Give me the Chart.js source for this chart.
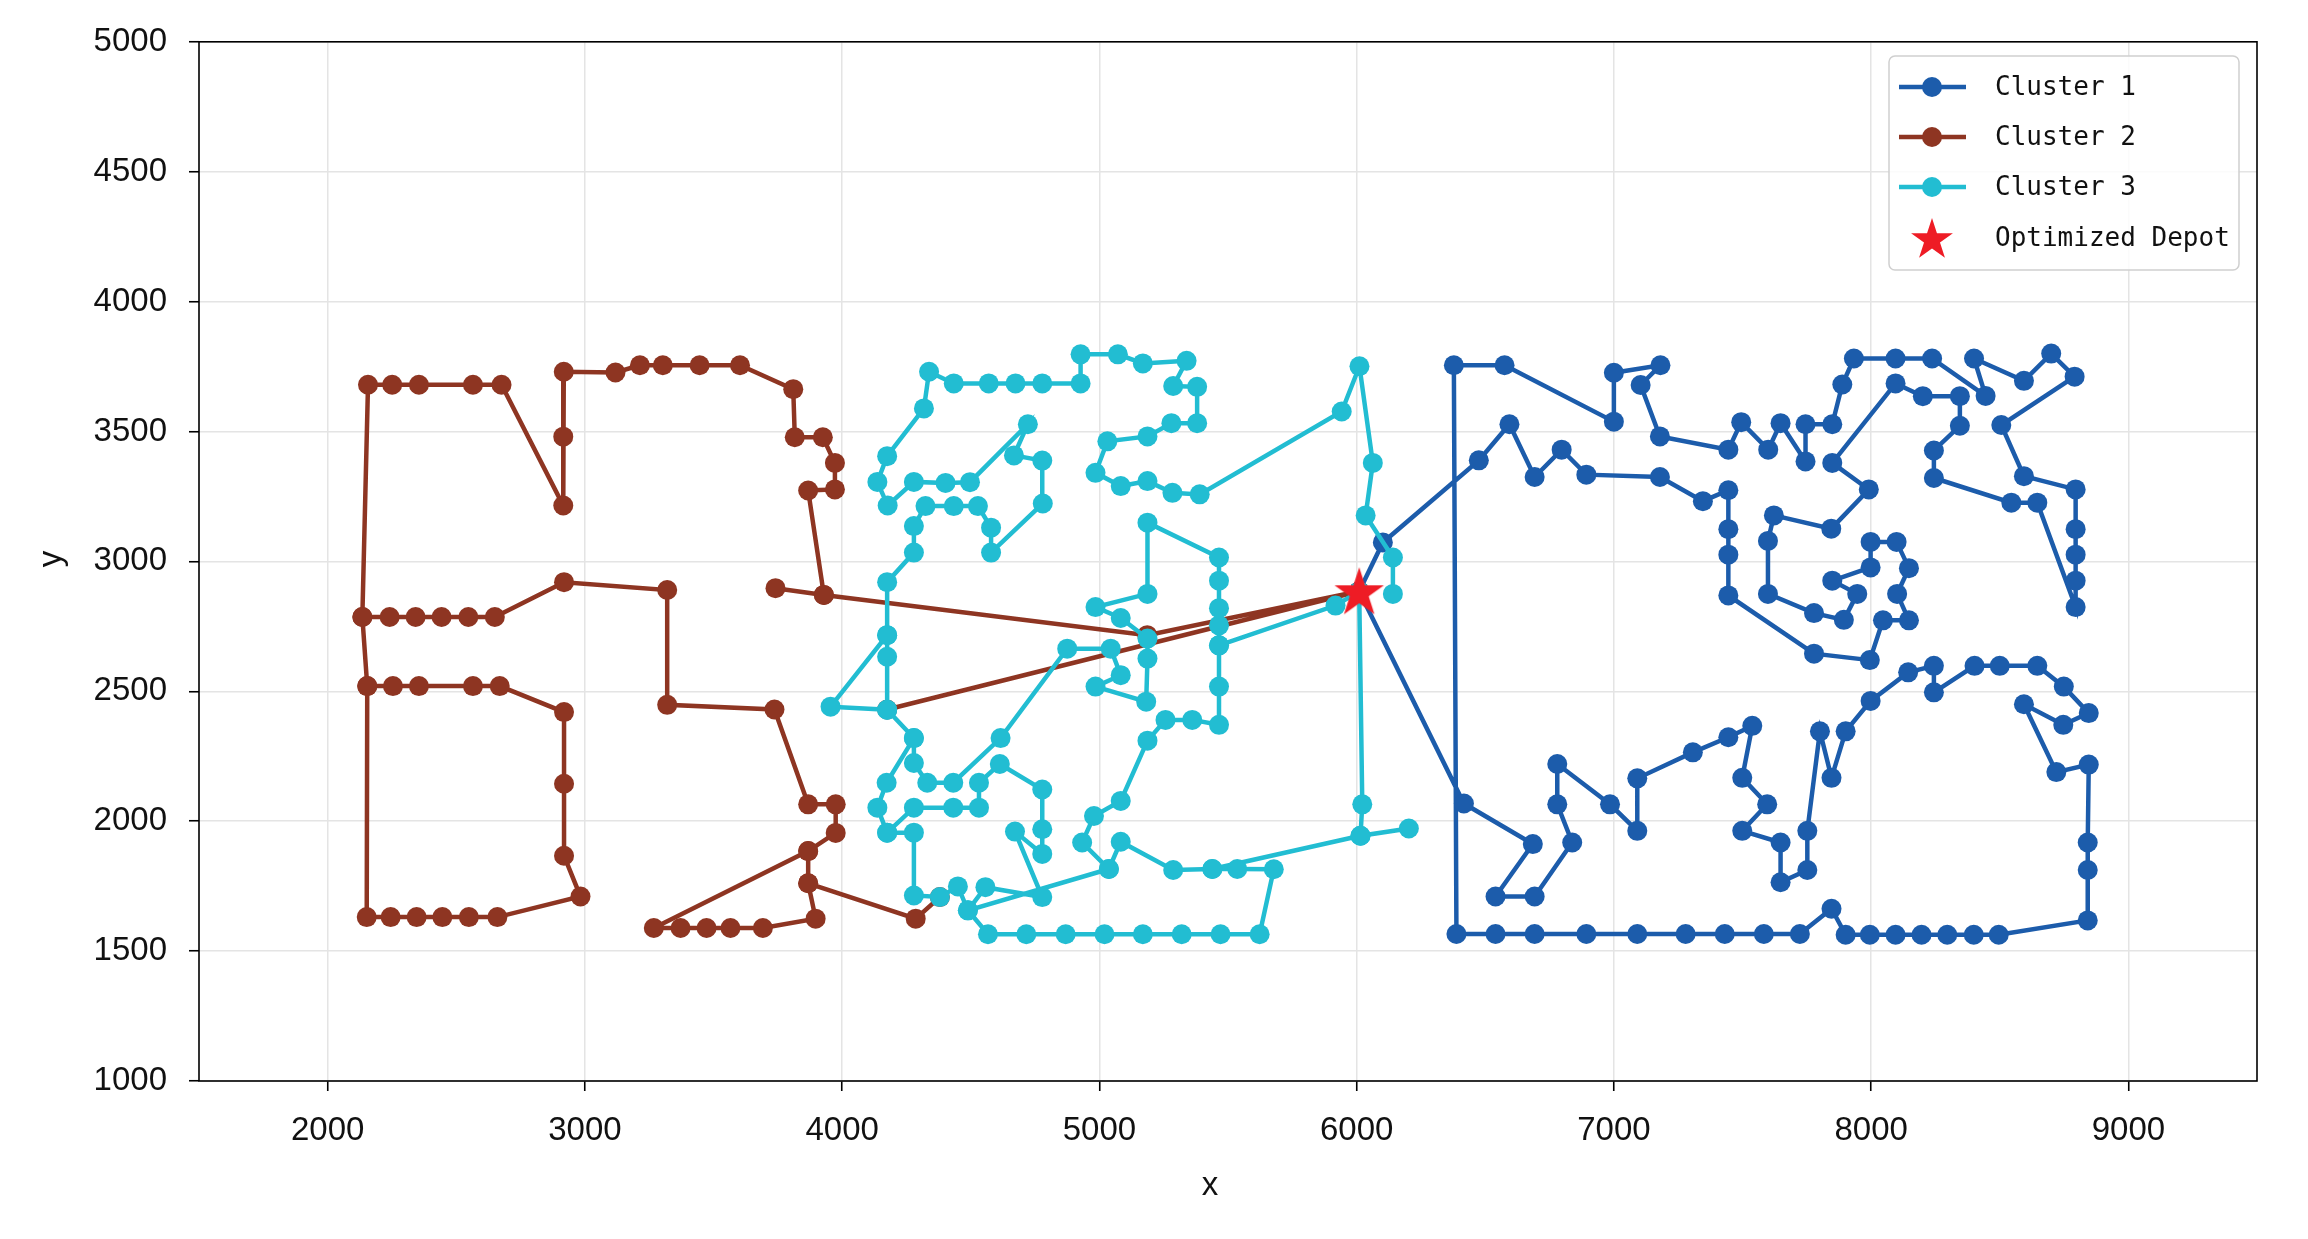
<!DOCTYPE html>
<html>
<head>
<meta charset="utf-8">
<script src="https://cdn.jsdelivr.net/npm/chart.js@4.4.0/dist/chart.umd.min.js"></script>
<style>
  html, body { margin: 0; padding: 0; background: #fff; }
  #wrap { width: 2308px; height: 1239px; }
</style>
</head>
<body>
<div id="wrap"><canvas id="myChart"></canvas></div>
<script>
// route coordinates, null = break between drawn pieces
const cluster1X = [6010, 6417, 6685, 6540, 6692, 6838, 6780, 6780, 6985, 7091, 7091, 7307, 7445, 7538, 7499, 7596, 7499, 7648, 7648, 7752, 7752, 7801, 7846, 7901, 7998, 8144, 8244, 8244, 8402, 8500, 8646, 8749, 8846, 8747, 8594, 8720, 8846, 8842, 8842, 8842, 8496, 8399, 8296, 8196, 8095, 7995, 7901, 7846, 7723, 7583, 7431, 7279, 7091, 6893, 6692, 6540, 6388, 6378, 6575, 7000, 7000, 7181, 7104, 7179, 7445, 7495, 7600, 7648, 7745, 7745, 7849, 7888, 7933, 8095, 8237, 8445, 8400, 8594, 8700, 8791, 8506, 8594, 8795, 8795, 8795, 8795, 8795, 8646, 8545, 8244, 8244, 8345, 8345, 8201, 8095, 7849, 7991, 7845, 7622, 7599, 7599, 7778, 7894, 7946, 7849, 7998, 7998, 8099, 8147, 8101, 8147, 8046, 7995, 7778, 7445, 7445, 7445, 7445, 7346, 7179, 6893, 6797, 6692, 6594, 6475, 6102, 6010];
const cluster1Y = [2885, 2068, 1912, 1710, 1710, 1918, 2065, 2220, 2065, 1963, 2165, 2265, 2323, 2367, 2167, 2065, 1963, 1918, 1765, 1812, 1963, 2346, 2167, 2346, 2463, 2573, 2598, 2496, 2598, 2598, 2598, 2518, 2416, 2371, 2450, 2189, 2218, 1918, 1812, 1618, 1563, 1563, 1563, 1563, 1563, 1563, 1563, 1663, 1566, 1566, 1566, 1566, 1566, 1566, 1566, 1566, 1566, 3755, 3755, 3538, 3726, 3755, 3679, 3481, 3430, 3536, 3430, 3532, 3385, 3528, 3528, 3681, 3781, 3781, 3781, 3637, 3781, 3695, 3800, 3711, 3525, 3328, 3277, 3124, 3026, 2926, 2824, 3226, 3226, 3321, 3427, 3522, 3636, 3636, 3685, 3379, 3277, 3126, 3177, 3079, 2875, 2801, 2775, 2875, 2926, 2977, 3075, 3075, 2974, 2875, 2773, 2773, 2620, 2645, 2869, 3026, 3124, 3274, 3232, 3325, 3334, 3430, 3325, 3528, 3389, 3073, 2885];

const cluster2X = [4175, 6010, 5186, 3929, 3741, null,
  3929, 3868, 3972, 3972, 3925, 3816, 3810, 3603, 3446, 3303, 3214, 3119, 2918, 2916, 2916, 2676, 2565, 2355, 2251, 2157, 2135, 2241, 2342, 2443, 2547, 2650, 2919, 3320, 3320, 3737, 3868, 3975, 3975, 3868, 3268, 3372, 3473, 3566, 3692, 3897, 3868, 4286, 4380, null,
  3868, 3868, null,
  2135, 2154, 2254, 2355, 2565, 2669, 2919, 2919, 2919, 2983, 2660, 2549, 2446, 2346, 2245, 2152, 2154];
const cluster2Y = [2430, 2885, 2716, 2871, 2897, null,
  2871, 3273, 3277, 3379, 3478, 3478, 3663, 3755, 3755, 3755, 3755, 3727, 3730, 3480, 3215, 3680, 3680, 3680, 3680, 3680, 2786, 2786, 2786, 2786, 2786, 2786, 2920, 2890, 2448, 2430, 2065, 2065, 1955, 1885, 1589, 1589, 1589, 1589, 1589, 1625, 1761, 1625, 1708, null,
  1885, 1761, null,
  2786, 2520, 2520, 2520, 2520, 2520, 2420, 2144, 1867, 1710, 1631, 1631, 1631, 1631, 1631, 1631, 2520];

const cluster3X = [4279, 4173, 4137, 4175, 4279, 4279, 4380, 4450, 4489, 4567, 4716, 4869, 5020, 5169, 5320, 5471, 5623, 5678, 5536, 5439, 5287, 5083, 5037, 4933, 4979, 5083, 5187, 5257, 5361, 5465, 5465, 5465, 5465, 5465, 5465, 5465, 5187, 5187, 4985, 5083, 5187, 5187, 5182, 4985, 5083, 5044, 4875, 4616, 4432, 4331, 4279, 4279, 4175, 3955, 4175, 4175, 4279, 4279, 4324, 4434, 4528, 4579, 4579, 4780, 4778, 4668, 4722, 4497, 4402, 4279, 4177, 4137, 4175, 4318, 4338, 4434, 4570, 4674, 4778, 4927, 4927, 5072, 5169, 5339, 5287, 5380, 5380, 5280, 5187, 5031, 4985, 5083, 5187, 5284, 5390, 5942, 6011, 6063, 6035, 6141, 6141, null,
  4175, 4175, 4175, null,
  4175, 4279, 4432, 4532, 4532, 4613, 4778, 4778, 4778, 4672, 4778, 4557, 4489, 5037, null,
  6203, 6015, 6022, 6010, 5918, 5465, null,
  6015, 5439];
const cluster3Y = [2320, 2148, 2052, 1956, 1956, 1714, 1708, 1749, 1657, 1565, 1565, 1565, 1565, 1565, 1565, 1565, 1565, 1815, 1816, 1816, 1812, 1921, 1816, 1918, 2020, 2078, 2310, 2390, 2390, 2371, 2518, 2677, 2754, 2820, 2926, 3015, 3149, 2875, 2824, 2782, 2703, 2626, 2460, 2518, 2562, 2664, 2664, 2320, 2148, 2148, 2224, 2320, 2429, 2441, 2716, 2920, 3034, 3136, 3213, 3213, 3213, 3130, 3034, 3223, 3388, 3408, 3528, 3305, 3302, 3306, 3215, 3306, 3405, 3589, 3730, 3685, 3685, 3685, 3685, 3685, 3797, 3797, 3762, 3772, 3675, 3672, 3532, 3532, 3481, 3462, 3341, 3290, 3309, 3264, 3258, 3577, 3751, 3379, 3177, 3015, 2875, null,
  2716, 2633, 2429, null,
  1956, 2052, 2052, 2052, 2148, 2220, 2122, 1969, 1874, 1960, 1708, 1746, 1657, 1816, null,
  1972, 1944, 2065, 2885, 2830, 2677, null,
  1944, 1816];

const depotX = [6010];
const depotY = [2885];

const seriesNames = ['Cluster 1', 'Cluster 2', 'Cluster 3', 'Optimized Depot'];
const xTicks = [2000, 3000, 4000, 5000, 6000, 7000, 8000, 9000];
const yTicks = [1000, 1500, 2000, 2500, 3000, 3500, 4000, 4500, 5000];

const colors = ['#1c5cab', '#8e3522', '#22bdd2', '#ee1c25'];
const tickFont = { family: 'Liberation Sans', size: 33 };

// turn x/y lists into points, a null becomes a gap in the line
function toPoints(xs, ys) {
  return xs.map(function(x, i) {
    if (x === null) return { x: xs[i - 1], y: null };
    return { x: x, y: ys[i] };
  });
}

// filled five point star, like matplotlib's '*'
function starPath(ctx, cx, cy, R) {
  const r = R * 0.382;
  ctx.beginPath();
  for (let k = 0; k < 10; k++) {
    const rad = k % 2 === 0 ? R : r;
    const a = -Math.PI / 2 + k * Math.PI / 5;
    const px = cx + rad * Math.cos(a), py = cy + rad * Math.sin(a);
    if (k === 0) ctx.moveTo(px, py); else ctx.lineTo(px, py);
  }
  ctx.closePath();
}
const starImg = document.createElement('canvas');
starImg.width = 56; starImg.height = 56;
(function() {
  const c = starImg.getContext('2d');
  c.fillStyle = colors[3];
  starPath(c, 28, 30, 26);
  c.fill();
})();

// frame, inner legend and axis titles
const decorPlugin = {
  id: 'decor',
  afterDraw(chart) {
    const ctx = chart.ctx;
    const a = chart.chartArea;
    ctx.save();
    ctx.strokeStyle = '#000';
    ctx.lineWidth = 1.6;
    ctx.strokeRect(a.left, a.top, a.right - a.left, a.bottom - a.top);

    // legend box
    const bx = 1889, by = 56, bw = 350, bh = 214;
    ctx.beginPath();
    ctx.roundRect(bx, by, bw, bh, 6);
    ctx.fillStyle = 'rgba(255,255,255,0.85)';
    ctx.fill();
    ctx.strokeStyle = '#cfcfcf';
    ctx.lineWidth = 1.5;
    ctx.stroke();
    const rowsY = [87, 137, 187, 238];
    ctx.font = '26px "DejaVu Sans Mono"';
    ctx.textBaseline = 'middle';
    ctx.textAlign = 'left';
    for (let i = 0; i < 4; i++) {
      const y = rowsY[i];
      if (i < 3) {
        ctx.strokeStyle = colors[i];
        ctx.lineWidth = 4.5;
        ctx.beginPath();
        ctx.moveTo(1899, y); ctx.lineTo(1966, y);
        ctx.stroke();
        ctx.fillStyle = colors[i];
        ctx.beginPath();
        ctx.arc(1932, y, 10, 0, Math.PI * 2);
        ctx.fill();
      } else {
        ctx.fillStyle = colors[3];
        starPath(ctx, 1932, y + 2, 22);
        ctx.fill();
      }
      ctx.fillStyle = '#111';
      ctx.fillText(seriesNames[i], 1995, y + 1);
    }

    // axis titles
    ctx.fillStyle = '#111';
    ctx.font = '33px "Liberation Sans"';
    ctx.textAlign = 'center';
    ctx.fillText('x', 1210, 1186);
    ctx.translate(52, 559);
    ctx.rotate(-Math.PI / 2);
    ctx.fillText('y', 0, 0);
    ctx.restore();
  }
};

function lineSet(idx, xs, ys, order) {
  return {
    label: seriesNames[idx],
    data: toPoints(xs, ys),
    showLine: true,
    borderColor: colors[idx],
    backgroundColor: colors[idx],
    borderWidth: 4.5,
    pointRadius: 10,
    pointHoverRadius: 10,
    pointBorderWidth: 0,
    pointBackgroundColor: colors[idx],
    spanGaps: false,
    order: order
  };
}

const plain = v => String(v);

const canvas = document.getElementById('myChart');
const chart = new Chart(canvas, {
  type: 'scatter',
  data: {
    datasets: [
      lineSet(0, cluster1X, cluster1Y, 3),
      lineSet(1, cluster2X, cluster2Y, 2),
      lineSet(2, cluster3X, cluster3Y, 1),
      {
        label: seriesNames[3],
        data: toPoints(depotX, depotY),
        pointStyle: starImg,
        pointRadius: 26,
        showLine: false,
        order: 0
      }
    ]
  },
  options: {
    responsive: true,
    maintainAspectRatio: false,
    animation: false,
    devicePixelRatio: 1,
    layout: { padding: { left: 0, top: 38, right: 51, bottom: 0 } },
    plugins: { legend: { display: false }, tooltip: { enabled: false } },
    scales: {
      x: {
        type: 'linear', min: 1500, max: 9500,
        afterBuildTicks: s => { s.ticks = xTicks.map(v => ({ value: v })); },
        afterFit: s => { s.height = 158; },
        grid: { color: '#e4e4e4', lineWidth: 1.5, tickColor: '#000', tickWidth: 1.6, tickLength: 10 },
        border: { display: false },
        ticks: { font: tickFont, color: '#111', padding: 20, maxRotation: 0, callback: plain }
      },
      y: {
        type: 'linear', min: 1000, max: 5000,
        afterBuildTicks: s => { s.ticks = yTicks.map(v => ({ value: v })); },
        afterFit: s => { s.width = 199; },
        grid: { color: '#e4e4e4', lineWidth: 1.5, tickColor: '#000', tickWidth: 1.6, tickLength: 10 },
        border: { display: false },
        ticks: { font: tickFont, color: '#111', padding: 22, callback: plain }
      }
    }
  },
  plugins: [decorPlugin]
});
</script>
</body>
</html>
